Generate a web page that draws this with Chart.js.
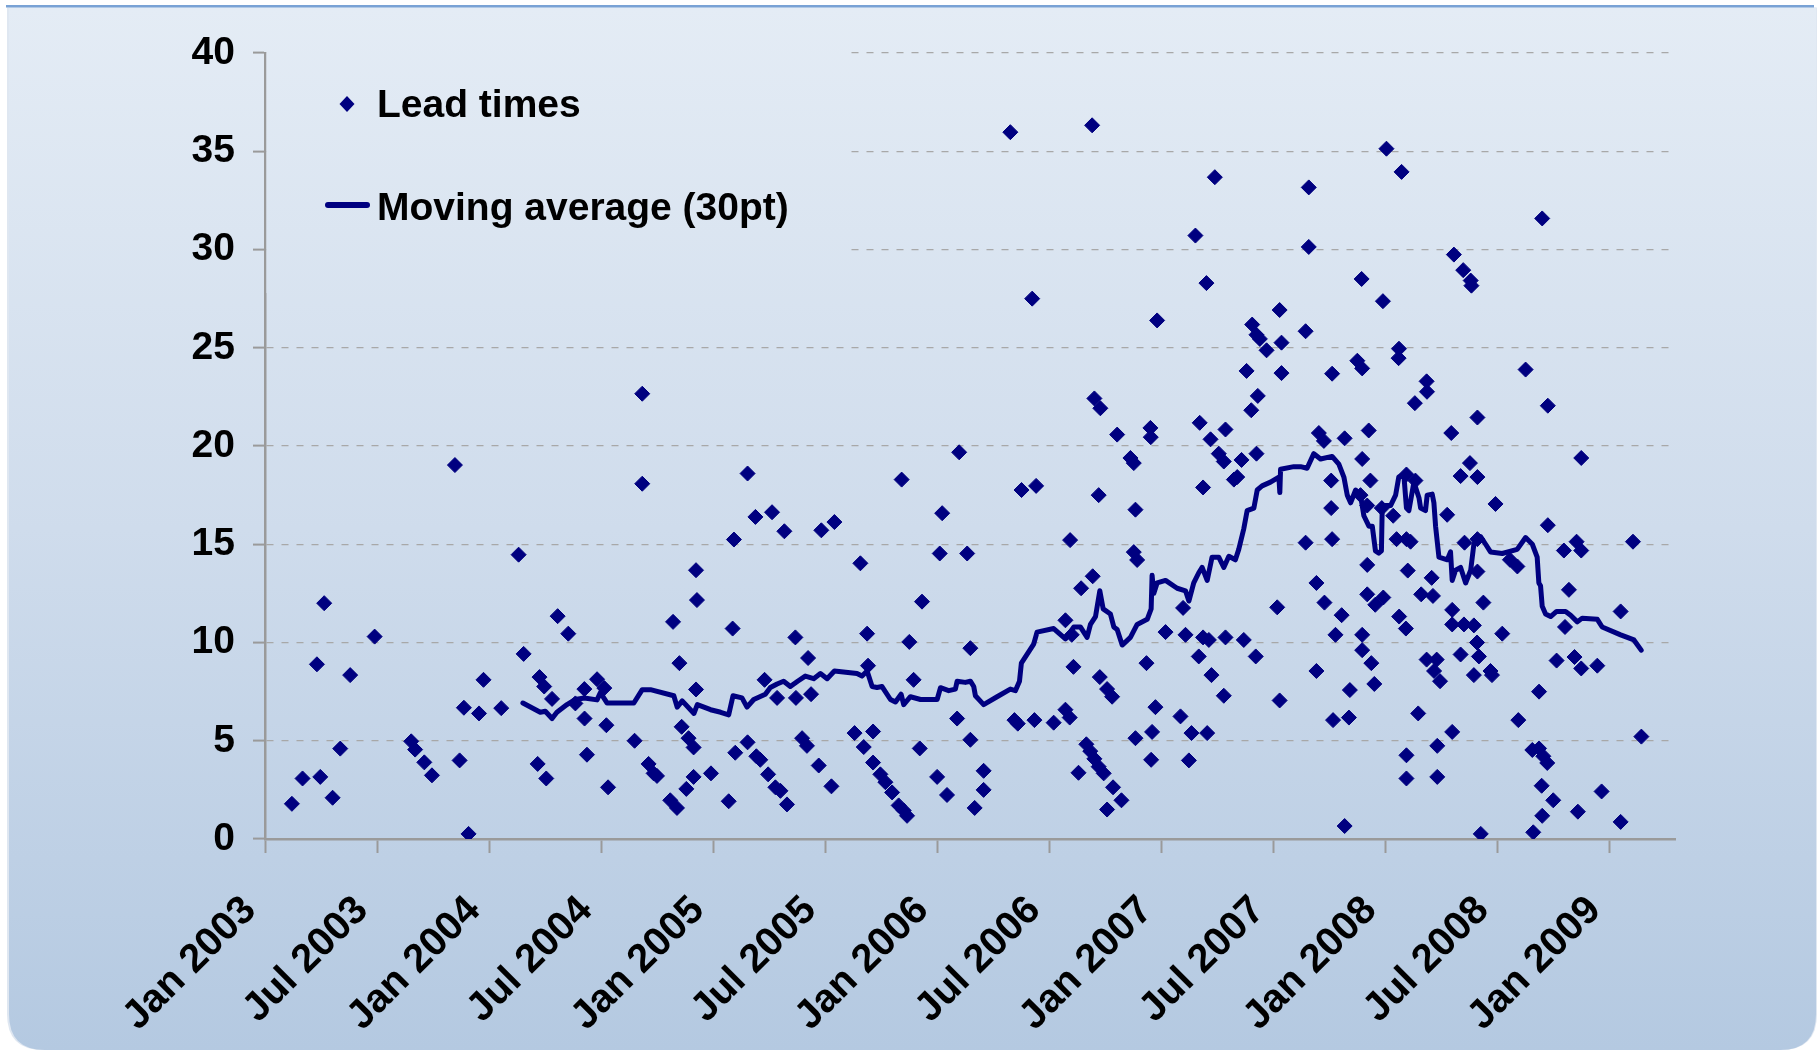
<!DOCTYPE html>
<html>
<head>
<meta charset="utf-8">
<script src="https://cdn.jsdelivr.net/npm/chart.js@4.4.1/dist/chart.umd.min.js"></script>
<style>
html,body{margin:0;padding:0;background:#ffffff;}
#wrap{position:absolute;left:0;top:0;width:1820px;height:1050px;}
canvas{display:block;}
</style>
</head>
<body>
<div id="wrap"><canvas id="c" width="1820" height="1050"></canvas></div>
<script>
// x values are months since Jan 2003
const xTickMonths = [0, 6, 12, 18, 24, 30, 36, 42, 48, 54, 60, 66, 72];
const xTickLabels = ['Jan 2003','Jul 2003','Jan 2004','Jul 2004','Jan 2005','Jul 2005','Jan 2006','Jul 2006','Jan 2007','Jul 2007','Jan 2008','Jul 2008','Jan 2009'];
const yTicks = [0, 5, 10, 15, 20, 25, 30, 35, 40];
const seriesNames = ['Lead times', 'Moving average (30pt)'];

const leadMonths = [
1.44,2.01,2.78,2.96,3.17,3.62,4.03,4.56,5.87,7.83,8.04,8.53,8.94,10.17,10.42,10.65,10.9,11.46,11.7,
12.65,13.58,13.85,14.6,14.7,14.95,15.06,15.37,15.67,16.24,16.62,17.1,17.11,17.24,17.78,18.17,18.28,18.37,19.79,20.2,20.2,20.54,20.81,20.99,21.7,21.85,22.06,22.19,22.31,22.56,22.68,22.95,22.95,23.08,23.13,23.08,23.88,
24.83,25.04,25.11,25.18,25.84,25.84,26.26,26.31,26.52,26.75,26.94,27.15,27.33,27.42,27.6,27.81,27.95,28.4,28.43,28.76,29.02,29.08,29.24,29.65,29.79,30.33,30.49,31.57,31.88,32.06,32.24,32.29,32.56,32.56,32.95,33.22,33.58,33.93,34.09,34.2,34.38,34.5,34.73,35.06,35.18,35.99,36.13,36.26,36.52,
37.06,37.17,37.6,37.77,37.77,38.0,38.48,38.48,39.91,40.13,40.31,40.51,41.08,41.2,41.29,42.23,42.86,42.86,43.09,43.11,43.2,43.29,43.56,43.7,43.98,44.19,44.29,44.32,44.41,44.41,44.64,44.64,44.7,44.73,44.91,45.09,45.09,45.36,45.41,45.63,45.86,46.34,46.52,46.52,46.61,46.61,46.7,
47.2,47.41,47.43,47.45,47.5,47.68,47.77,48.22,49.02,49.16,49.29,49.47,49.61,49.82,50.0,50.05,50.23,50.23,50.41,50.45,50.54,50.63,50.68,50.86,51.07,51.34,51.34,51.43,51.43,51.88,52.06,52.29,52.41,52.56,52.81,52.86,53.05,53.09,53.09,53.16,53.27,53.63,54.2,54.33,54.33,54.43,54.43,55.72,55.72,55.89,55.89,
56.3,56.3,56.43,56.7,56.73,57.09,57.09,57.14,57.14,57.19,57.32,57.65,57.81,57.81,58.04,58.09,58.49,58.66,58.72,58.75,58.75,58.75,58.75,59.02,59.02,59.02,59.1,59.19,59.24,59.4,59.45,59.8,59.86,59.88,60.05,60.41,60.59,60.7,60.72,60.73,60.86,61.09,61.12,61.12,61.12,61.12,61.19,61.34,61.57,61.6,61.75,61.91,62.2,62.2,62.22,62.47,62.54,62.6,62.74,62.77,62.77,62.92,63.3,63.52,63.57,63.57,63.57,63.66,64.02,64.02,64.16,64.2,64.23,64.52,64.56,64.6,64.73,64.73,64.9,64.92,64.92,64.92,64.92,65.1,
65.0,65.24,65.62,65.7,65.89,66.25,66.66,67.06,67.11,67.5,67.86,67.91,68.22,68.22,68.36,68.39,68.39,68.45,68.66,68.69,68.69,68.98,69.16,69.55,69.61,69.82,70.12,70.23,70.3,70.48,70.48,70.48,71.34,71.57,72.59,72.59,73.25,73.7
];
const leadValues = [
1.79,3.08,8.89,3.16,12.0,2.1,4.6,8.34,10.3,4.97,4.55,3.9,3.24,19.03,4.0,6.68,0.26,6.39,8.1,
6.66,14.47,9.42,3.82,8.24,7.76,3.08,7.13,11.34,10.45,6.9,7.63,6.13,4.29,8.13,7.68,5.79,2.63,5.0,22.66,18.08,3.82,3.34,3.21,1.97,11.05,1.58,8.95,5.71,2.55,5.13,4.66,3.16,13.68,12.16,7.61,3.34,
1.92,10.71,15.24,4.39,18.6,4.92,16.39,4.21,4.03,8.1,3.29,16.63,2.63,7.18,2.45,15.66,1.76,10.26,7.18,5.13,4.74,9.21,7.37,3.74,15.71,2.68,16.13,5.39,14.03,4.68,10.45,8.82,5.47,3.89,3.29,2.89,2.37,1.71,18.29,1.45,1.18,10.03,8.1,4.61,12.08,3.16,14.53,16.58,2.24,
6.13,19.68,14.53,9.71,5.05,1.58,3.47,2.5,35.97,6.05,5.87,17.76,27.5,6.05,17.97,5.92,6.58,11.13,6.18,15.21,10.39,8.76,3.37,12.76,4.82,4.47,36.32,13.37,22.42,4.08,17.5,3.68,8.24,21.92,3.34,7.63,1.5,7.24,2.63,20.58,1.97,19.39,19.13,14.6,16.76,5.13,14.2,
8.95,20.92,20.45,4.03,5.45,6.71,26.39,10.53,6.24,11.76,10.39,4.0,5.39,30.71,9.29,21.18,17.89,10.26,28.29,5.39,10.13,20.34,8.34,33.68,19.61,19.21,7.29,20.84,10.26,18.29,18.42,19.29,10.13,23.82,21.82,26.18,9.29,25.66,19.61,22.55,25.45,24.87,11.79,7.05,26.92,25.26,23.71,25.84,15.08,33.16,30.13,
13.03,8.55,20.66,20.26,12.03,18.24,16.84,23.68,15.26,6.05,10.39,11.39,20.39,0.66,6.18,7.58,24.34,17.5,28.5,23.95,19.34,10.39,9.61,16.97,13.95,12.45,20.79,18.24,8.95,7.89,11.92,16.84,27.37,12.29,35.13,16.45,15.26,24.47,24.95,11.32,33.95,10.71,18.55,15.26,4.26,3.08,13.66,15.13,22.18,18.24,6.39,12.45,23.29,9.13,22.76,13.29,12.37,8.55,9.13,4.74,3.16,8.03,16.5,20.66,11.66,10.92,5.45,29.74,18.47,9.39,28.95,10.92,15.08,19.13,28.42,28.16,10.87,8.34,10.0,18.42,15.26,21.45,13.61,0.26,
9.29,12.03,8.55,8.34,17.05,10.45,14.21,13.87,6.05,23.89,4.53,0.34,4.61,7.5,2.71,31.58,1.18,4.21,3.87,22.05,15.97,1.97,9.08,14.68,10.79,12.68,9.26,15.13,1.39,19.39,14.68,8.68,8.82,2.42,11.58,0.87,15.13,5.21
];

const maMonths = [
13.81,14.74,15.01,15.37,15.63,16.17,16.62,17.1,17.78,17.96,18.32,19.75,20.2,20.64,21.89,22.07,22.34,22.97,23.15,23.86,
24.4,24.83,25.06,25.54,25.81,26.17,26.79,27.06,27.42,27.77,28.13,28.52,28.93,29.38,29.74,30.1,30.49,31.7,31.97,32.24,32.51,32.77,33.04,33.49,33.76,34.06,34.2,34.56,35.1,35.99,
36.17,36.61,36.97,37.06,37.5,37.77,37.95,38.04,38.48,39.2,39.91,40.18,40.4,40.5,41.16,41.34,42.23,42.86,43.31,43.66,44.02,44.2,44.47,44.7,44.88,45.27,45.45,45.63,45.9,
46.34,46.7,47.24,47.45,47.5,47.59,47.77,48.22,48.84,49.29,49.47,49.73,50.0,50.18,50.45,50.71,51.07,51.34,51.61,51.96,52.14,52.41,52.59,52.95,53.13,53.39,53.84,54.29,54.34,54.38,55.09,
55.45,55.8,56.16,56.52,57.14,57.5,57.77,57.95,58.13,58.4,58.66,58.84,59.11,59.29,59.46,59.64,59.78,59.82,60.0,60.27,60.54,60.71,60.98,61.12,61.25,61.52,61.79,61.88,62.14,62.23,62.5,62.59,62.68,62.77,62.86,63.31,63.48,63.57,63.75,64.02,64.29,64.56,
64.73,65.09,65.36,65.62,66.25,67.05,67.5,67.86,68.12,68.21,68.3,68.39,68.57,68.84,69.16,69.64,69.91,70.27,70.53,71.34,71.6,72.59,73.3,73.69
];
const maValues = [
6.92,6.45,6.5,6.13,6.45,6.84,7.1,7.18,7.08,7.45,6.92,6.92,7.6,7.6,7.29,6.71,7.03,6.39,6.84,6.58,
6.45,6.32,7.29,7.18,6.71,7.1,7.37,7.71,7.89,8.03,7.76,8.03,8.29,8.16,8.42,8.16,8.55,8.42,8.29,8.55,7.76,7.71,7.76,7.1,6.97,7.37,6.84,7.24,7.1,7.1,
7.7,7.55,7.63,8.03,7.97,8.03,7.76,7.29,6.84,7.24,7.63,7.55,8.03,8.95,9.92,10.53,10.71,10.18,10.79,10.79,10.26,10.92,11.32,12.63,11.71,11.45,10.79,10.66,9.87,
10.26,10.92,11.18,11.71,13.42,12.5,13.03,13.16,12.76,12.63,12.11,13.03,13.55,13.82,13.16,14.34,14.34,13.82,14.39,14.21,14.74,15.79,16.71,16.84,17.76,17.97,18.16,18.42,17.63,18.82,18.95,
18.95,18.87,19.61,19.34,19.47,19.08,18.42,17.5,17.11,17.76,17.5,16.45,15.92,15.92,14.66,14.55,14.66,16.71,16.97,16.97,17.5,18.42,18.55,16.84,16.71,18.16,17.37,16.84,16.71,17.5,17.55,17.11,15.92,15.13,14.34,14.21,14.61,13.16,13.68,13.82,13.03,13.68,
15.0,15.39,15.0,14.61,14.53,14.74,15.34,15.0,14.34,13.03,12.89,11.84,11.45,11.32,11.58,11.58,11.39,11.05,11.24,11.18,10.79,10.39,10.13,9.61
];

const NAVY = '#000080';
const AXIS_GRAY = '#9a9a9a';
const FONT = '"Liberation Sans", Arial, Helvetica, sans-serif';

function panelGradient(ctx) {
  const g = ctx.createLinearGradient(0, 7, 0, 1050);
  g.addColorStop(0, '#e4ecf5');
  g.addColorStop(0.5, '#cfdcec');
  g.addColorStop(1, '#b4c9e1');
  return g;
}

const backgroundPlugin = {
  id: 'panelBackground',
  beforeDraw(chart) {
    const ctx = chart.ctx;
    ctx.save();
    ctx.fillStyle = '#ffffff';
    ctx.fillRect(0, 0, chart.width, chart.height);
    const x0 = 7, y0 = 7.5, x1 = 1817, y1 = 1050, r = 36;
    ctx.beginPath();
    ctx.moveTo(x0, y0);
    ctx.lineTo(x1, y0);
    ctx.lineTo(x1, y1 - r);
    ctx.quadraticCurveTo(x1, y1, x1 - r, y1);
    ctx.lineTo(x0 + r, y1);
    ctx.quadraticCurveTo(x0, y1, x0, y1 - r);
    ctx.closePath();
    ctx.fillStyle = '#dfe7f1';
    ctx.fill();
    ctx.beginPath();
    ctx.moveTo(x0 + 2, y0);
    ctx.lineTo(x1 - 1, y0);
    ctx.lineTo(x1 - 1, y1 - r);
    ctx.quadraticCurveTo(x1 - 1, y1, x1 - r - 1, y1);
    ctx.lineTo(x0 + r + 2, y1);
    ctx.quadraticCurveTo(x0 + 2, y1, x0 + 2, y1 - r);
    ctx.closePath();
    ctx.fillStyle = panelGradient(ctx);
    ctx.fill();
    ctx.fillStyle = '#79a2d5';
    ctx.fillRect(6, 5, 1808, 2.5);
    ctx.restore();
  }
};

const legendPlugin = {
  id: 'insideLegend',
  beforeDatasetsDraw(chart) {
    const ctx = chart.ctx;
    const ca = chart.chartArea;
    ctx.save();
    // legend box filled like the chart background (hides grid lines behind it)
    ctx.fillStyle = panelGradient(ctx);
    ctx.fillRect(ca.left + 1.5, 38, 848 - ca.left - 1.5, 255);
    // marker for scatter series
    ctx.fillStyle = NAVY;
    ctx.beginPath();
    ctx.moveTo(339.5, 104); ctx.lineTo(347, 96); ctx.lineTo(354.5, 104); ctx.lineTo(347, 112);
    ctx.closePath();
    ctx.fill();
    // line sample for moving average
    ctx.strokeStyle = NAVY;
    ctx.lineWidth = 6;
    ctx.lineCap = 'round';
    ctx.beginPath();
    ctx.moveTo(328, 205); ctx.lineTo(367, 205);
    ctx.stroke();
    ctx.fillStyle = '#000000';
    ctx.font = 'bold 39px ' + FONT;
    ctx.textBaseline = 'alphabetic';
    ctx.textAlign = 'left';
    ctx.fillText(chart.data.datasets[0].label, 377, 117);
    ctx.fillText(chart.data.datasets[1].label, 377, 220);
    ctx.restore();
  }
};

const leadPoints = leadMonths.map((m, i) => ({ x: m, y: leadValues[i] }));
const maPoints = maMonths.map((m, i) => ({ x: m, y: maValues[i] }));

new Chart(document.getElementById('c'), {
  type: 'scatter',
  data: {
    datasets: [
      {
        label: seriesNames[0],
        data: leadPoints,
        pointStyle: 'rectRot',
        pointRadius: 7.5,
        pointBorderWidth: 1,
        backgroundColor: NAVY,
        borderColor: NAVY,
        showLine: false,
        order: 1
      },
      {
        label: seriesNames[1],
        data: maPoints,
        showLine: true,
        pointRadius: 0,
        borderColor: NAVY,
        backgroundColor: NAVY,
        borderWidth: 5,
        borderJoinStyle: 'round',
        borderCapStyle: 'round',
        tension: 0,
        order: 0
      }
    ]
  },
  options: {
    responsive: false,
    animation: false,
    devicePixelRatio: 1,
    layout: { padding: { left: 0, right: 145, top: 53, bottom: 0 } },
    plugins: { legend: { display: false }, tooltip: { enabled: false }, title: { display: false } },
    scales: {
      x: {
        type: 'linear',
        min: 0,
        max: 75.5,
        afterBuildTicks: (s) => { s.ticks = xTickMonths.map(v => ({ value: v })); },
        afterFit: (s) => { s.height = 211; },
        ticks: {
          autoSkip: false,
          minRotation: 45,
          maxRotation: 45,
          padding: 34,
          labelOffset: -15,
          color: '#000000',
          font: { family: FONT, size: 40, weight: 'bold' },
          callback: (v) => xTickLabels[xTickMonths.indexOf(v)]
        },
        grid: { drawOnChartArea: false, drawTicks: true, tickLength: 14, tickColor: AXIS_GRAY, tickWidth: 2 },
        border: { display: true, color: AXIS_GRAY, width: 2.5 }
      },
      y: {
        type: 'linear',
        min: 0,
        max: 40,
        afterBuildTicks: (s) => { s.ticks = yTicks.map(v => ({ value: v })); },
        afterFit: (s) => { s.width = 265; },
        ticks: {
          padding: 18,
          color: '#000000',
          font: { family: FONT, size: 39, weight: 'bold' },
          callback: (v) => String(v)
        },
        grid: {
          drawOnChartArea: true,
          drawTicks: true,
          color: '#a8a8a8',
          lineWidth: 1.2,
          tickLength: 12,
          tickColor: AXIS_GRAY,
          tickWidth: 2,
          tickBorderDash: []
        },
        border: { display: true, color: AXIS_GRAY, width: 2.5, dash: [7, 8] }
      }
    }
  },
  plugins: [backgroundPlugin, legendPlugin]
});
</script>
</body>
</html>
